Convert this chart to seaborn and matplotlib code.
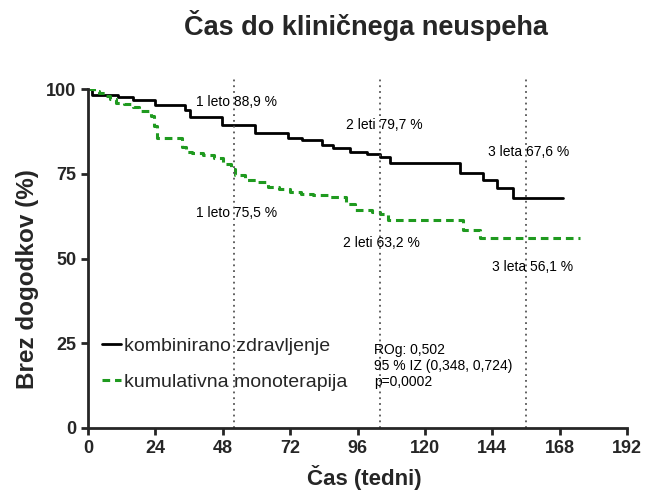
import matplotlib
matplotlib.use('Agg')
from matplotlib import pyplot as plt
import seaborn as sns
import pandas as pd

# krivulji prezivetja (tedni, % brez dogodkov)
tedni_komb = [0, 1.5, 10.8, 16.1, 23.9, 34.6, 36.3, 47.6, 59.5, 71.4, 76.1, 83.2, 87.4,
              93.3, 99.3, 104, 107.6, 132.5, 140.8, 145.6, 151.5, 169.3]
vred_komb = [100, 98.2, 97.7, 96.8, 95.4, 93.8, 91.8, 89.3, 86.9, 85.5, 85.0, 83.5, 82.5,
             81.5, 80.8, 79.8, 78.3, 75.3, 73.2, 70.7, 67.8, 67.8]
tedni_mono = [0, 2, 4, 6, 8, 10, 13, 16, 18, 22.5, 23.5, 24.5, 33.5, 35, 37, 41, 45, 48, 51,
              52.5, 56, 60, 64, 68, 72, 76, 80, 86, 92, 95, 101, 104, 107, 133.5, 139.5, 175.3]
vred_mono = [100, 99.4, 98.8, 98, 97, 96, 95.5, 94.8, 93.6, 92, 89, 85.5, 83, 81.5, 81, 80.4,
             79.6, 78, 76.5, 74.5, 73.2, 72.5, 71.2, 70.4, 69.7, 69, 68.7, 68.1, 66, 64.3,
             63.8, 63.2, 61.4, 58.4, 56.1, 56.1]

leta_tedni = [52, 104, 156]
oznake_komb = ['1 leto 88,9 %', '2 leti 79,7 %', '3 leta 67,6 %']
oznake_mono = ['1 leto 75,5 %', '2 leti 63,2 %', '3 leta 56,1 %']
x_ticks = [0, 24, 48, 72, 96, 120, 144, 168, 192]
y_ticks = [0, 25, 50, 75, 100]

sns.set_style('ticks')
plt.rcParams['font.family'] = ['Liberation Sans', 'DejaVu Sans']
narrow = ['Liberation Sans Narrow', 'Liberation Sans', 'DejaVu Sans']

df_k = pd.DataFrame({'tedni': tedni_komb, 'vred': vred_komb})
df_m = pd.DataFrame({'tedni': tedni_mono, 'vred': vred_mono})

fig = plt.figure(figsize=(6.45, 4.93), dpi=100)
ax = fig.add_axes([88/645, 1-428/493, (627-88)/645, (428-89)/493])

sns.lineplot(data=df_k, x='tedni', y='vred', ax=ax, color='black', lw=2,
             drawstyle='steps-post', label='kombinirano zdravljenje')
sns.lineplot(data=df_m, x='tedni', y='vred', ax=ax, color='#1f9a1f', lw=2.2,
             drawstyle='steps-post', dashes=(2.5, 1.6), label='kumulativna monoterapija')

ax.vlines(leta_tedni, 0, 103, colors='#555555', linestyles=(0, (1, 2.2)), lw=1.3,
          clip_on=False)

ax.set_xlim(0, 192)
ax.set_ylim(0, 100)
ax.set_xticks(x_ticks)
ax.set_yticks(y_ticks)
for sp in ['top', 'right']:
    ax.spines[sp].set_visible(False)
for sp in ['left', 'bottom']:
    ax.spines[sp].set_linewidth(2)
ax.tick_params(width=2, length=5, labelsize=13)
for lab in ax.get_xticklabels() + ax.get_yticklabels():
    lab.set_fontweight('bold')

# oznake
pos_k = [(53, 96.2), (105.5, 89.5), (157, 81.5)]
pos_m = [(53, 63.5), (104.5, 54.5), (158.5, 47.5)]
for t, (x, y) in zip(oznake_komb, pos_k):
    ax.text(x, y, t, ha='center', va='center', fontsize=10, family=narrow, color='black')
for t, (x, y) in zip(oznake_mono, pos_m):
    ax.text(x, y, t, ha='center', va='center', fontsize=10, family=narrow, color='black')

ax.text(102, 25, 'ROg: 0,502\n95 % IZ (0,348, 0,724)\np=0,0002', ha='left', va='top',
        fontsize=10, family=narrow, linespacing=1.15, color='black')

ax.legend(loc='lower left', bbox_to_anchor=(0.0, 0.07), frameon=False, fontsize=14,
          handlelength=1.0, handletextpad=0.15, labelspacing=0.95, borderaxespad=0.3)

ax.set_xlabel('Čas (tedni)', fontsize=16, fontweight='bold')
ax.set_ylabel('Brez dogodkov (%)', fontsize=17.5, fontweight='bold')
ax.xaxis.set_label_coords(0.512, -0.11)
ax.yaxis.set_label_coords(-0.09, 0.44)
fig.suptitle('Čas do kliničnega neuspeha', x=0.568, y=0.98, fontsize=19.5, fontweight='bold')

fig.savefig('out.png', dpi=100)
